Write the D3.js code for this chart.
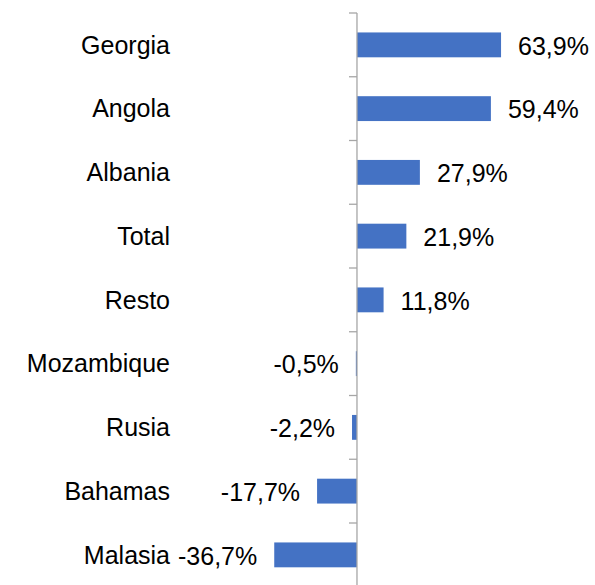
<!DOCTYPE html>
<html>
<head>
<meta charset="utf-8">
<script src="https://cdn.jsdelivr.net/npm/d3@7"></script>
<style>
  body { margin: 0; background: #fff; }
  text { font-family: "Liberation Sans", Arial, sans-serif; font-size: 25px; fill: #000; }
</style>
</head>
<body>
<svg width="595" height="585"></svg>
<script>
// data
var countries = ["Georgia", "Angola", "Albania", "Total", "Resto", "Mozambique", "Rusia", "Bahamas", "Malasia"];
var growth = [63.9, 59.4, 27.9, 21.9, 11.8, -0.5, -2.2, -17.7, -36.7];

var svg = d3.select("svg");

var x = d3.scaleLinear()
  .domain([-40, 70])
  .range([266.8, 514.8]);

var y = d3.scaleBand()
  .domain(countries)
  .range([13, 586.75])
  .paddingInner(0.61)
  .paddingOuter(0.305);

// spanish style: comma decimal, plain hyphen for minus
var fmt = function(v) { return d3.format(".1f")(v).replace(".", ",").replace("\u2212", "-") + "%"; };

// bars
svg.append("g")
  .selectAll("rect")
  .data(countries)
  .enter().append("rect")
    .attr("x", function(d, i) { return Math.min(x(0), x(growth[i])); })
    .attr("y", function(d) { return y(d); })
    .attr("width", function(d, i) { return Math.abs(x(growth[i]) - x(0)); })
    .attr("height", y.bandwidth())
    .attr("fill", "#4472C4");

// axis with ticks between categories
var step = y.step();
var tickPos = d3.range(countries.length + 1).map(function(i) { return 13 + i * step; });
var ax = svg.append("g").attr("stroke", "#a6a6a6").attr("stroke-width", 1.3);
ax.append("line")
  .attr("x1", x(0)).attr("x2", x(0))
  .attr("y1", 13).attr("y2", 586);
ax.selectAll(".tick")
  .data(tickPos)
  .enter().append("line")
    .attr("x1", x(0) - 8).attr("x2", x(0))
    .attr("y1", function(d) { return d; })
    .attr("y2", function(d) { return d; });

// category labels
svg.append("g")
  .selectAll("text")
  .data(countries)
  .enter().append("text")
    .attr("x", 170)
    .attr("y", function(d) { return y(d) + y.bandwidth() / 2; })
    .attr("dy", "0.35em")
    .attr("text-anchor", "end")
    .text(function(d) { return d; });

// value labels
svg.append("g")
  .selectAll("text")
  .data(countries)
  .enter().append("text")
    .attr("x", function(d, i) { return growth[i] >= 0 ? x(growth[i]) + 17 : x(growth[i]) - 17; })
    .attr("y", function(d) { return y(d) + y.bandwidth() / 2 + 1; })
    .attr("dy", "0.35em")
    .attr("text-anchor", function(d, i) { return growth[i] >= 0 ? "start" : "end"; })
    .text(function(d, i) { return fmt(growth[i]); });
</script>
</body>
</html>
